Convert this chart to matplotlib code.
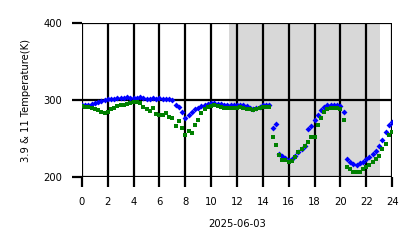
import numpy as np
import matplotlib
matplotlib.use("Agg")
import matplotlib.pyplot as plt

hours = np.arange(0, 24.01, 0.25)

t_39 = [293, 293, 294, 295, 296, 297, 299, 300, 301, 302, 302, 303,
        303, 303, 304, 303, 303, 303, 304, 303, 302, 302, 303, 302,
        303, 302, 302, 302, 300, 293, 291, 284, 277, 280, 284, 288,
        290, 292, 294, 295, 296, 296, 295, 295, 294, 293, 293, 293,
        293, 293, 293, 292, 290, 289, 290, 291, 293, 293, 293, 264,
        269, 230, 228, 225, 222, 224, 228, 232, 236, 240, 262, 266,
        274, 280, 287, 291, 293, 294, 294, 293, 292, 285, 224, 220,
        217, 216, 218, 220, 223, 226, 230, 234, 240, 248, 258, 268,
        272]

t_11 = [292, 291, 291, 290, 289, 287, 285, 283, 285, 289, 290, 292,
        293, 294, 295, 296, 297, 297, 296, 291, 288, 286, 290, 282,
        281, 280, 283, 278, 277, 266, 273, 264, 255, 260, 257, 268,
        274, 283, 288, 291, 292, 293, 292, 291, 290, 290, 290, 290,
        290, 291, 290, 289, 288, 287, 288, 290, 291, 291, 291, 252,
        242, 229, 222, 222, 220, 221, 226, 232, 236, 240, 245, 252,
        252, 268, 277, 285, 288, 290, 290, 290, 289, 274, 213, 210,
        207, 206, 207, 210, 213, 216, 220, 223, 228, 236, 243, 254,
        258]

night_start = 11.38
night_end = 23.07
x_ticks = list(range(0, 25, 2))
y_ticks = [200, 300, 400]

fig = plt.figure(figsize=(4.18, 2.48), dpi=100)
ax = fig.add_axes([0.196, 0.286, 0.742, 0.621])

ax.axvspan(night_start, night_end, color="gray", alpha=0.3, lw=0, zorder=0)
ax.plot(hours, t_39, linestyle="none", marker="D", markersize=3.0,
        color="blue", markeredgewidth=0, zorder=3)
ax.plot(hours, t_11, linestyle="none", marker="s", markersize=2.4,
        color="green", markeredgewidth=0, zorder=4)

ax.set_xlim(0, 24)
ax.set_ylim(200, 400)
ax.set_xticks(x_ticks)
ax.set_xticklabels([str(v) for v in x_ticks])
ax.set_yticks(y_ticks)
ax.grid(True, color="black", linewidth=1.6, zorder=1)
ax.set_axisbelow(False)
for s in ax.spines.values():
    s.set_visible(False)
ax.tick_params(axis="both", length=7, width=1.6, labelsize=7.2, pad=7,
               color="black")
ax.set_xlabel("2025-06-03", fontsize=7.2, labelpad=9)
ax.set_ylabel("3.9 & 11 Temperature(K)", fontsize=7.2, labelpad=9)

fig.savefig("out.png", dpi=100)
